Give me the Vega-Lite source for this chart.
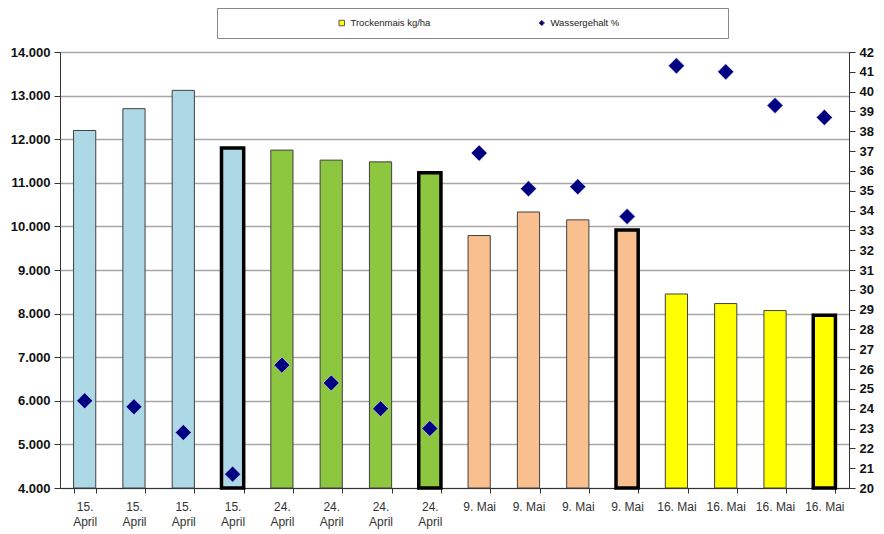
{
  "$schema": "https://vega.github.io/schema/vega-lite/v6.json",
  "width": 789,
  "height": 436,
  "autosize": {"type": "none"},
  "padding": {"left": 60, "top": 52, "right": 35, "bottom": 46},
  "background": "white",
  "config": {
    "font": "Liberation Sans",
    "view": {"stroke": "#222", "strokeWidth": 1}
  },
  "data": {
    "values": [
      {"nr": "01|15.|April", "termin": "15. April", "trocken": 12200, "wasser": 24.4, "kontrolle": false},
      {"nr": "02|15.|April", "termin": "15. April", "trocken": 12700, "wasser": 24.1, "kontrolle": false},
      {"nr": "03|15.|April", "termin": "15. April", "trocken": 13120, "wasser": 22.8, "kontrolle": false},
      {"nr": "04|15.|April", "termin": "15. April", "trocken": 11800, "wasser": 20.7, "kontrolle": true},
      {"nr": "05|24.|April", "termin": "24. April", "trocken": 11750, "wasser": 26.2, "kontrolle": false},
      {"nr": "06|24.|April", "termin": "24. April", "trocken": 11520, "wasser": 25.3, "kontrolle": false},
      {"nr": "07|24.|April", "termin": "24. April", "trocken": 11480, "wasser": 24.0, "kontrolle": false},
      {"nr": "08|24.|April", "termin": "24. April", "trocken": 11230, "wasser": 23.0, "kontrolle": true},
      {"nr": "09|9. Mai", "termin": "9. Mai", "trocken": 9790, "wasser": 36.9, "kontrolle": false},
      {"nr": "10|9. Mai", "termin": "9. Mai", "trocken": 10330, "wasser": 35.1, "kontrolle": false},
      {"nr": "11|9. Mai", "termin": "9. Mai", "trocken": 10150, "wasser": 35.2, "kontrolle": false},
      {"nr": "12|9. Mai", "termin": "9. Mai", "trocken": 9920, "wasser": 33.7, "kontrolle": true},
      {"nr": "13|16. Mai", "termin": "16. Mai", "trocken": 8450, "wasser": 41.3, "kontrolle": false},
      {"nr": "14|16. Mai", "termin": "16. Mai", "trocken": 8230, "wasser": 41.0, "kontrolle": false},
      {"nr": "15|16. Mai", "termin": "16. Mai", "trocken": 8070, "wasser": 39.3, "kontrolle": false},
      {"nr": "16|16. Mai", "termin": "16. Mai", "trocken": 7960, "wasser": 38.7, "kontrolle": true}
    ]
  },
  "layer": [
    {
      "mark": {"type": "bar"},
      "encoding": {
        "x": {
          "field": "nr", "type": "nominal", "sort": null,
          "scale": {"paddingInner": 0.55, "paddingOuter": 0.275},
          "axis": {
            "title": null, "labelAngle": 0, "tickBand": "extent",
            "labelExpr": "slice(split(datum.value, '|'), 1)",
            "labelBaseline": "top",
            "labelFontSize": 12, "labelColor": "#333", "labelLineHeight": 15,
            "labelPadding": 8, "domainColor": "#333", "tickColor": "#333", "tickSize": 5
          }
        },
        "y": {
          "field": "trocken", "type": "quantitative",
          "scale": {"domain": [4000, 14000], "nice": false, "zero": false},
          "axis": {
            "title": null, "orient": "left",
            "values": [4000, 5000, 6000, 7000, 8000, 9000, 10000, 11000, 12000, 13000, 14000],
            "labelExpr": "replace(format(datum.value, ','), ',', '.')",
            "labelFontSize": 13, "labelFontWeight": "bold", "labelColor": "#111",
            "grid": true, "gridColor": "#a6a6a6", "gridWidth": 1.5,
            "domainColor": "#333", "tickColor": "#333", "tickSize": 6, "labelPadding": 4
          }
        },
        "y2": {"datum": 4000},
        "fill": {
          "field": "termin", "type": "nominal",
          "scale": {"domain": ["15. April", "24. April", "9. Mai", "16. Mai"], "range": ["#ADD8E6", "#8DC63F", "#FABF8F", "#FFFF00"]},
          "legend": null
        },
        "stroke": {"condition": {"test": "datum.kontrolle", "value": "#000000"}, "value": "#404040"},
        "strokeWidth": {"condition": {"test": "datum.kontrolle", "value": 3.5}, "value": 1}
      }
    },
    {
      "mark": {"type": "point", "filled": true, "opacity": 1, "stroke": "#e8e8ff", "strokeWidth": 0.6},
      "encoding": {
        "x": {"field": "nr", "type": "nominal", "sort": null},
        "y": {
          "field": "wasser", "type": "quantitative",
          "scale": {"domain": [20, 42], "nice": false, "zero": false},
          "axis": {
            "title": null, "orient": "right",
            "values": [20, 21, 22, 23, 24, 25, 26, 27, 28, 29, 30, 31, 32, 33, 34, 35, 36, 37, 38, 39, 40, 41, 42],
            "labelFontSize": 13, "labelFontWeight": "bold", "labelColor": "#111",
            "grid": false, "domainColor": "#333", "tickColor": "#333", "tickSize": 6, "labelPadding": 4
          }
        },
        "color": {
          "datum": "Wassergehalt %",
          "scale": {"domain": ["Trockenmais kg/ha", "Wassergehalt %"], "range": ["#FFFF00", "#000080"]},
          "legend": {
            "orient": "none", "legendX": 157, "legendY": -44, "direction": "horizontal",
            "title": " ", "titleOrient": "left", "titlePadding": 110,
            "strokeColor": "#888", "fillColor": "white", "padding": 10,
            "labelFontSize": 9.5, "labelColor": "#222", "symbolSize": 30, "labelLimit": 300,
            "symbolStrokeColor": "#555", "symbolStrokeWidth": 1, "columnPadding": 106,
            "labelExpr": "datum.label == 'Wassergehalt %' ? datum.label + '\u2800\u2800\u2800\u2800\u2800\u2800\u2800\u2800\u2800\u2800\u2800\u2800\u2800\u2800' : datum.label"
          }
        },
        "shape": {
          "datum": "Wassergehalt %",
          "scale": {"domain": ["Trockenmais kg/ha", "Wassergehalt %"], "range": ["square", "diamond"]}
        },
        "size": {"value": 260}
      }
    }
  ],
  "resolve": {"scale": {"y": "independent"}}
}
